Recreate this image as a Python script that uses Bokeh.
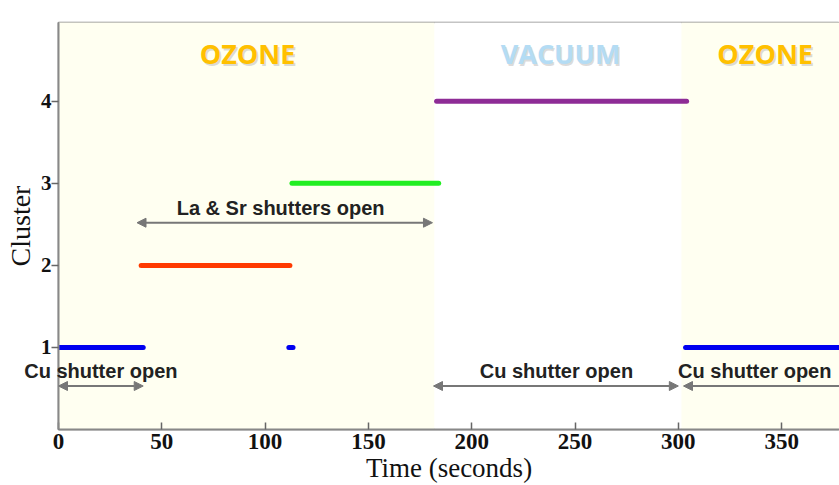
from bokeh.plotting import figure
from bokeh.models import (ColumnDataSource, Label, Arrow, NormalHead, FixedTicker, Range1d)
from bokeh.embed import file_html
from bokeh.resources import INLINE
from bokeh.core.properties import value

# ---- data ----
phase_start = [0, 182, 301.5]
phase_end = [182, 301.5, 400]
phase_name = ["OZONE", "VACUUM", "OZONE"]
phase_label_x = [91.5, 243, 342]

seg_start = [0, 40, 111.5, 113, 183, 303.5]
seg_end = [41, 112, 113.5, 184, 304, 385]
seg_cluster = [1, 2, 1, 3, 4, 1]
seg_color = ["#0000F0", "#FF3A00", "#0000F0", "#22EE22", "#8E2C96", "#0000F0"]

shutter_text = ["La & Sr shutters open", "Cu shutter open", "Cu shutter open", "Cu shutter open"]
shutter_start = [38, 0, 181.5, 302.5]
shutter_end = [181, 41, 300, 385]
shutter_level = [2.52, 0.53, 0.53, 0.53]
shutter_text_x = [107.5, 20.5, 241, 337]

x_ticks = [0, 50, 100, 150, 200, 250, 300, 350]
y_ticks = [1, 2, 3, 4]

p = figure(width=839, height=485, output_backend="svg", toolbar_location=None,
           x_range=Range1d(0, 378), y_range=Range1d(0, 4.96),
           min_border_left=58, min_border_right=0, min_border_top=15, min_border_bottom=53)
p.background_fill_color = "white"
p.border_fill_color = "white"
p.grid.visible = False
p.outline_line_color = "#888888"
p.outline_line_width = 1.5

# phase backgrounds
bg_colors = ["#FFFFF1" if n == "OZONE" else "#FFFFFF" for n in phase_name]
p.quad(left=phase_start, right=phase_end, bottom=-1, top=6, fill_color=bg_colors,
       line_color=None, level="underlay")

# phase labels with soft shadow
txt_colors = ["#FFC000" if n == "OZONE" else "#B4DCF4" for n in phase_name]
p.text(x=phase_label_x, y=[4.58] * 3, text=phase_name, text_color="#999999", text_alpha=0.35,
       text_font=value("Open Sans"), text_font_style="bold", text_font_size="27px",
       text_align="center", text_baseline="middle", x_offset=1.5, y_offset=1.5)
p.text(x=phase_label_x, y=[4.58] * 3, text=phase_name, text_color=txt_colors,
       text_font=value("Open Sans"), text_font_style="bold", text_font_size="27px",
       text_align="center", text_baseline="middle")

# cluster segments
src = ColumnDataSource(dict(x0=seg_start, x1=seg_end, y=seg_cluster, c=seg_color))
p.segment(x0="x0", y0="y", x1="x1", y1="y", color="c", line_width=5, line_cap="round", source=src)

# shutter arrows and labels
for i, (t, s, e, lv, tx) in enumerate(zip(shutter_text, shutter_start, shutter_end, shutter_level, shutter_text_x)):
    p.add_layout(Arrow(x_start=s, x_end=e, y_start=lv, y_end=lv, line_color="#777777", line_width=2,
                       start=NormalHead(size=9, fill_color="#777777", line_color="#777777"),
                       end=NormalHead(size=9, fill_color="#777777", line_color="#777777")))
    lab = Label(x=tx, y=lv, text=t, text_align="center", text_baseline="bottom",
                y_offset=4, text_font="Liberation Sans", text_font_style="bold",
                text_font_size="20px", text_color="#222222", level="overlay")
    # the first "Cu shutter open" overhangs the left edge of the frame: keep it unclipped
    p.add_layout(lab, "above" if i == 1 else "center")

# axes
p.xaxis.ticker = FixedTicker(ticks=x_ticks)
p.yaxis.ticker = FixedTicker(ticks=y_ticks)
for ax in (p.xaxis[0], p.yaxis[0]):
    ax.axis_line_color = "#888888"
    ax.axis_line_width = 2
    ax.major_tick_line_color = "#666666"
    ax.major_tick_line_width = 1.5
    ax.minor_tick_line_color = None
    ax.major_label_text_font = "Liberation Serif"
    ax.major_label_text_font_style = "bold"
    ax.major_label_text_color = "#111111"
    ax.axis_label_text_font = "Liberation Serif"
    ax.axis_label_text_font_style = "normal"
    ax.axis_label_text_color = "#111111"
p.xaxis.major_tick_in = 7
p.xaxis.major_tick_out = 0
p.xaxis.major_label_text_font_size = "23px"
p.xaxis.major_label_standoff = 4
p.xaxis.axis_label = "Time (seconds)"
p.xaxis.axis_label_text_font_size = "27px"
p.xaxis.axis_label_standoff = 1
p.yaxis.major_tick_in = 0
p.yaxis.major_tick_out = 7
p.yaxis.major_label_text_font_size = "21px"
p.yaxis.major_label_standoff = 0
p.yaxis.axis_label = "Cluster"
p.yaxis.axis_label_text_font_size = "28px"
p.yaxis.axis_label_standoff = 2

open("out.html", "w").write(file_html(p, INLINE))
